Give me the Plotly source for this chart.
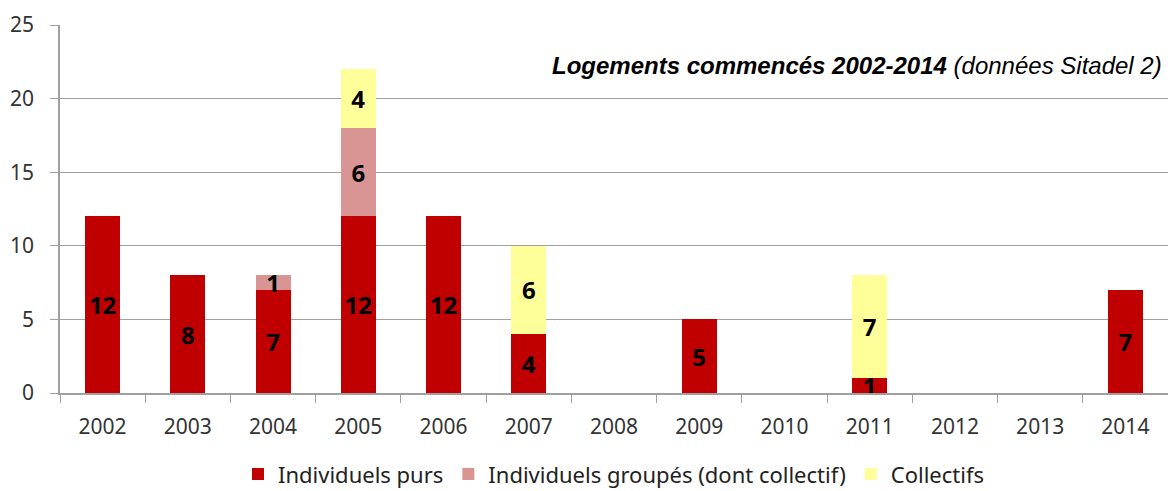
import plotly.graph_objects as go

years = ["2002", "2003", "2004", "2005", "2006", "2007", "2008",
         "2009", "2010", "2011", "2012", "2013", "2014"]
individuels_purs = [12, 8, 7, 12, 12, 4, 0, 5, 0, 1, 0, 0, 7]
individuels_groupes = [0, 0, 1, 6, 0, 0, 0, 0, 0, 0, 0, 0, 0]
collectifs = [0, 0, 0, 4, 0, 6, 0, 0, 0, 7, 0, 0, 0]

series = [
    ("Individuels purs", individuels_purs, "#C00000"),
    ("Individuels groupés (dont collectif)", individuels_groupes, "#D99594"),
    ("Collectifs", collectifs, "#FFFF99"),
]

fig = go.Figure()
for name, vals, color in series:
    fig.add_trace(go.Bar(
        x=years,
        y=vals,
        name=name,
        marker=dict(color=color, line_width=0),
        text=[str(v) if v else "" for v in vals],
        textposition="inside",
        insidetextanchor="middle",
        constraintext="none",
        textfont=dict(family="Noto Sans", size=24, color="black", weight="bold"),
        textangle=0,
    ))

fig.add_annotation(
    text="<b><i>Logements commencés 2002-2014</i></b> <i>(données Sitadel 2)</i>",
    xref="paper", yref="paper", x=0.996, y=0.889,
    xanchor="right", yanchor="middle", showarrow=False,
    font=dict(family="Liberation Sans", size=24, color="black"),
)

fig.update_layout(
    barmode="stack",
    bargap=0.59,
    width=1168,
    height=491,
    margin=dict(l=60, r=0, t=25, b=98),
    plot_bgcolor="white",
    paper_bgcolor="white",
    font=dict(family="Noto Sans", size=21, color="#333333"),
    # legend placed against the page, not the plot, so margins stay fixed
    legend=dict(
        orientation="h", x=0.5, xanchor="center",
        yref="container", y=0.034, yanchor="middle",
        font=dict(size=22, color="#222222"), traceorder="normal",
        itemwidth=30,
    ),
    xaxis=dict(
        showline=True, linecolor="#A0A0A0", linewidth=1.5,
        ticks="outside", tickson="boundaries", ticklen=8, tickcolor="#A0A0A0",
        showgrid=False, ticklabelstandoff=14,
    ),
    yaxis=dict(
        range=[0, 25], dtick=5,
        showline=True, linecolor="#A0A0A0", linewidth=1.5,
        ticks="outside", ticklen=8, tickcolor="#A0A0A0",
        gridcolor="#A0A0A0", gridwidth=1.2, zeroline=False,
        ticklabelstandoff=12,
    ),
)

# drop the default 8px body margin so the figure fills the window exactly
fig.write_html(
    "out.html",
    config={"displayModeBar": False},
    post_script="document.body.style.margin='0';document.body.style.overflow='hidden';",
)
